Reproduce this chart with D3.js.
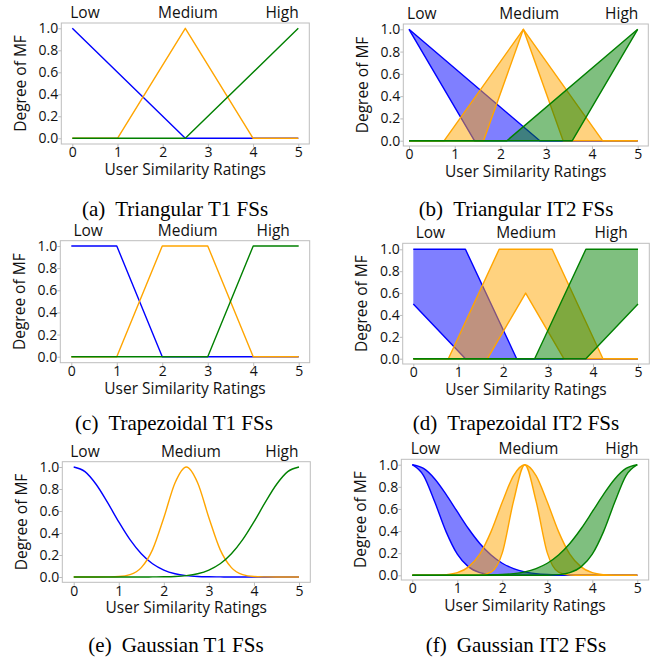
<!DOCTYPE html>
<html>
<head>
<meta charset="utf-8">
<script src="https://cdn.jsdelivr.net/npm/d3@7"></script>
<style>
    body { margin: 0; background: #fff; }
    svg { display: block; }
</style>
</head>
<body>
<div id="chart"></div>
<script>
// ---- data ----
const xTicks = [0, 1, 2, 3, 4, 5];
const yTicks = [0, 0.2, 0.4, 0.6, 0.8, 1.0];
const setNames = ['Low', 'Medium', 'High'];
const setColors = ['blue', 'orange', 'green'];
const captionTags = ['(a)', '(b)', '(c)', '(d)', '(e)', '(f)'];
const captionTexts = ['Triangular T1 FSs', 'Triangular IT2 FSs', 'Trapezoidal T1 FSs',
    'Trapezoidal IT2 FSs', 'Gaussian T1 FSs', 'Gaussian IT2 FSs'];

/* piecewise-linear sets, [x, degree] vertices */
const triT1Low = [[0, 1], [2.5, 0], [5, 0]];
const triT1Medium = [[0, 0], [1, 0], [2.5, 1], [4, 0], [5, 0]];
const triT1High = [[0, 0], [2.5, 0], [5, 1]];

const triIT2LowUpper = [[0, 1], [2.86, 0], [5, 0]];
const triIT2LowLower = [[0, 1], [1.43, 0], [5, 0]];
const triIT2MediumUpper = [[0, 0], [0.77, 0], [2.5, 1], [4.23, 0], [5, 0]];
const triIT2MediumLower = [[0, 0], [1.63, 0], [2.5, 1], [3.37, 0], [5, 0]];
const triIT2HighUpper = [[0, 0], [2.14, 0], [5, 1]];
const triIT2HighLower = [[0, 0], [3.57, 0], [5, 1]];

const trapT1Low = [[0, 1], [1, 1], [2, 0], [5, 0]];
const trapT1Medium = [[0, 0], [1, 0], [2, 1], [3, 1], [4, 0], [5, 0]];
const trapT1High = [[0, 0], [3, 0], [4, 1], [5, 1]];

const trapIT2LowUpper = [[0, 1], [1.16, 1], [2.3, 0], [5, 0]];
const trapIT2LowLower = [[0, 0.5], [1.16, 0], [5, 0]];
const trapIT2MediumUpper = [[0, 0], [0.78, 0], [1.91, 1], [3.09, 1], [4.22, 0], [5, 0]];
const trapIT2MediumLower = [[0, 0], [1.65, 0], [2.5, 0.6], [3.35, 0], [5, 0]];
const trapIT2HighUpper = [[0, 0], [2.7, 0], [3.84, 1], [5, 1]];
const trapIT2HighLower = [[0, 0], [3.84, 0], [5, 0.5]];

/* gaussian sets, degree read at each sample rating */
const sampleX = [0, 0.25, 0.5, 0.75, 1, 1.25, 1.5, 1.75, 2, 2.25, 2.5,
    2.75, 3, 3.25, 3.5, 3.75, 4, 4.25, 4.5, 4.75, 5];

const gaussT1Low = [1, 0.958, 0.841, 0.678, 0.501, 0.339, 0.211, 0.120, 0.063, 0.030, 0.013,
    0.005, 0.002, 0.001, 0, 0, 0, 0, 0, 0, 0];
const gaussT1Medium = [0, 0, 0, 0.001, 0.004, 0.021, 0.085, 0.249, 0.539, 0.857, 1,
    0.857, 0.539, 0.249, 0.085, 0.021, 0.004, 0.001, 0, 0, 0];
const gaussT1High = [0, 0, 0, 0, 0, 0, 0, 0.001, 0.002, 0.005, 0.013,
    0.030, 0.063, 0.120, 0.211, 0.339, 0.501, 0.678, 0.841, 0.958, 1];

const gaussIT2LowUpper = [1, 0.966, 0.871, 0.732, 0.575, 0.421, 0.288, 0.183, 0.109, 0.061, 0.031,
    0.015, 0.007, 0.003, 0.001, 0, 0, 0, 0, 0, 0];
const gaussIT2LowLower = [1, 0.902, 0.662, 0.395, 0.191, 0.076, 0.024, 0.006, 0.001, 0, 0,
    0, 0, 0, 0, 0, 0, 0, 0, 0, 0];
const gaussIT2MediumUpper = [0, 0, 0.001, 0.006, 0.024, 0.076, 0.191, 0.395, 0.662, 0.902, 1,
    0.902, 0.662, 0.395, 0.191, 0.076, 0.024, 0.006, 0.001, 0, 0];
const gaussIT2MediumLower = [0, 0, 0, 0, 0, 0, 0.002, 0.028, 0.203, 0.671, 1,
    0.671, 0.203, 0.028, 0.002, 0, 0, 0, 0, 0, 0];
const gaussIT2HighUpper = [0, 0, 0, 0, 0, 0, 0.001, 0.003, 0.007, 0.015, 0.031,
    0.061, 0.109, 0.183, 0.288, 0.421, 0.575, 0.732, 0.871, 0.966, 1];
const gaussIT2HighLower = [0, 0, 0, 0, 0, 0, 0, 0, 0, 0, 0,
    0, 0.001, 0.006, 0.024, 0.076, 0.191, 0.395, 0.662, 0.902, 1];

// ---- layout ----
const W = 653, H = 662;
const sansFont = '"Open Sans", "Noto Sans", sans-serif';
const serifFont = '"Liberation Serif", "Times New Roman", serif';
const frameColor = '#bdbdbd';

const toPoints = (ys) => sampleX.map((x, i) => [x, ys[i]]);

const panels = [
    { frame: [61.3, 23, 309.3, 144], xr: [72.3, 298.3], yr: [138.3, 28.3], labelX: [0.28, 2.56, 4.64],
      smooth: false, t1: [triT1Low, triT1Medium, triT1High] },
    { frame: [403.3, 24, 648.3, 146], xr: [409, 637.7], yr: [140.7, 29.3], labelX: [0.28, 2.63, 4.65],
      smooth: false, it2: [[triIT2LowUpper, triIT2LowLower], [triIT2MediumUpper, triIT2MediumLower],
          [triIT2HighUpper, triIT2HighLower]] },
    { frame: [60.3, 240.7, 309.7, 362.7], xr: [71.3, 298.7], yr: [356.7, 246], labelX: [0.37, 2.56, 4.44],
      smooth: false, t1: [trapT1Low, trapT1Medium, trapT1High] },
    { frame: [402.7, 243.3, 649.3, 364], xr: [413.3, 638], yr: [358.7, 249.3], labelX: [0.38, 2.51, 4.4],
      smooth: false, it2: [[trapIT2LowUpper, trapIT2LowLower], [trapIT2MediumUpper, trapIT2MediumLower],
          [trapIT2HighUpper, trapIT2HighLower]] },
    { frame: [62.3, 461.7, 310.3, 582.3], xr: [73.7, 299], yr: [577, 467], labelX: [0.25, 2.6, 4.62],
      smooth: true, t1: [gaussT1Low, gaussT1Medium, gaussT1High].map(toPoints) },
    { frame: [401.3, 459.3, 648.7, 580], xr: [412.3, 637.3], yr: [575.3, 464.7], labelX: [0.29, 2.58, 4.66],
      smooth: true, it2: [[gaussIT2LowUpper, gaussIT2LowLower], [gaussIT2MediumUpper, gaussIT2MediumLower],
          [gaussIT2HighUpper, gaussIT2HighLower]].map((s) => s.map(toPoints)) }
];
const captionPos = [[175, 216], [516, 216], [174, 430], [516, 430], [176, 652], [516, 652]];

const svg = d3.select('#chart')
    .append('svg')
    .attr('width', W)
    .attr('height', H)
    .style('background-color', '#fff');

function drawPanel(p) {
    const [fl, ft, fr, fb] = p.frame;
    const x = d3.scaleLinear().domain([0, 5]).range(p.xr);
    const y = d3.scaleLinear().domain([0, 1]).range(p.yr);
    const curve = p.smooth ? d3.curveMonotoneX : d3.curveLinear;
    const g = svg.append('g').attr('class', 'panel');

    const line = d3.line()
        .x((d) => x(d[0]))
        .y((d) => y(d[1]))
        .curve(curve);

    /* frame first, marks on top */
    g.append('rect')
        .attr('x', fl).attr('y', ft)
        .attr('width', fr - fl).attr('height', fb - ft)
        .attr('fill', 'none')
        .attr('stroke', frameColor)
        .attr('stroke-width', 1);

    if (p.t1) {
        p.t1.forEach((pts, i) => {
            g.append('path')
                .attr('d', line(pts))
                .attr('fill', 'none')
                .attr('stroke', setColors[i])
                .attr('stroke-width', 1.4)
                .attr('stroke-linejoin', 'round');
        });
    } else {
        p.it2.forEach(([upper, lower], i) => {
            let fillPath;
            if (p.smooth) {
                const band = upper.map((d, k) => ({ x: d[0], hi: d[1], lo: lower[k][1] }));
                fillPath = d3.area()
                    .x((d) => x(d.x))
                    .y0((d) => y(d.lo))
                    .y1((d) => y(d.hi))
                    .curve(curve)(band);
            } else {
                fillPath = line(upper.concat(lower.slice().reverse())) + 'Z';
            }
            g.append('path')
                .attr('d', fillPath)
                .attr('fill', setColors[i])
                .attr('fill-opacity', 0.5)
                .attr('stroke', 'none');
            [upper, lower].forEach((pts) => {
                g.append('path')
                    .attr('d', line(pts))
                    .attr('fill', 'none')
                    .attr('stroke', setColors[i])
                    .attr('stroke-width', 1.4)
                    .attr('stroke-linejoin', 'round');
            });
        });
    }

    /* axes */
    const xAxis = g.append('g')
        .attr('transform', `translate(0,${fb})`)
        .call(d3.axisBottom(x).tickValues(xTicks).tickFormat(d3.format('d')).tickSize(3.5).tickPadding(0));
    const yAxis = g.append('g')
        .attr('transform', `translate(${fl},0)`)
        .call(d3.axisLeft(y).tickValues(yTicks).tickFormat(d3.format('.1f')).tickSize(3).tickPadding(0));
    [xAxis, yAxis].forEach((a) => {
        a.select('.domain').remove();
        a.selectAll('.tick line').attr('stroke', frameColor);
        a.selectAll('.tick text')
            .attr('fill', '#111')
            .style('font-family', sansFont)
            .style('font-size', '14px');
    });

    g.append('text')
        .attr('x', (fl + fr) / 2)
        .attr('y', fb + 31)
        .attr('text-anchor', 'middle')
        .style('font-family', sansFont)
        .style('font-size', '15.5px')
        .attr('fill', '#111')
        .text('User Similarity Ratings');

    g.append('text')
        .attr('transform', `translate(${fl - 35.3},${(ft + fb) / 2}) rotate(-90)`)
        .attr('text-anchor', 'middle')
        .style('font-family', sansFont)
        .style('font-size', '15.5px')
        .attr('fill', '#111')
        .text('Degree of MF');

    /* set names above the frame */
    g.selectAll('.set-name')
        .data(setNames)
        .enter().append('text')
        .attr('class', 'set-name')
        .attr('x', (d, i) => x(p.labelX[i]))
        .attr('y', ft - 5)
        .attr('text-anchor', 'middle')
        .style('font-family', sansFont)
        .style('font-size', '15.5px')
        .attr('fill', '#111')
        .text((d) => d);
}

panels.forEach(drawPanel);

/* sub-figure captions */
captionTags.forEach((tag, i) => {
    const t = svg.append('text')
        .attr('x', captionPos[i][0])
        .attr('y', captionPos[i][1])
        .attr('text-anchor', 'middle')
        .style('font-family', serifFont)
        .style('font-size', '21px')
        .attr('fill', '#000');
    t.append('tspan').text(tag);
    t.append('tspan').attr('dx', 10).text(captionTexts[i]);
});
</script>
</body>
</html>
